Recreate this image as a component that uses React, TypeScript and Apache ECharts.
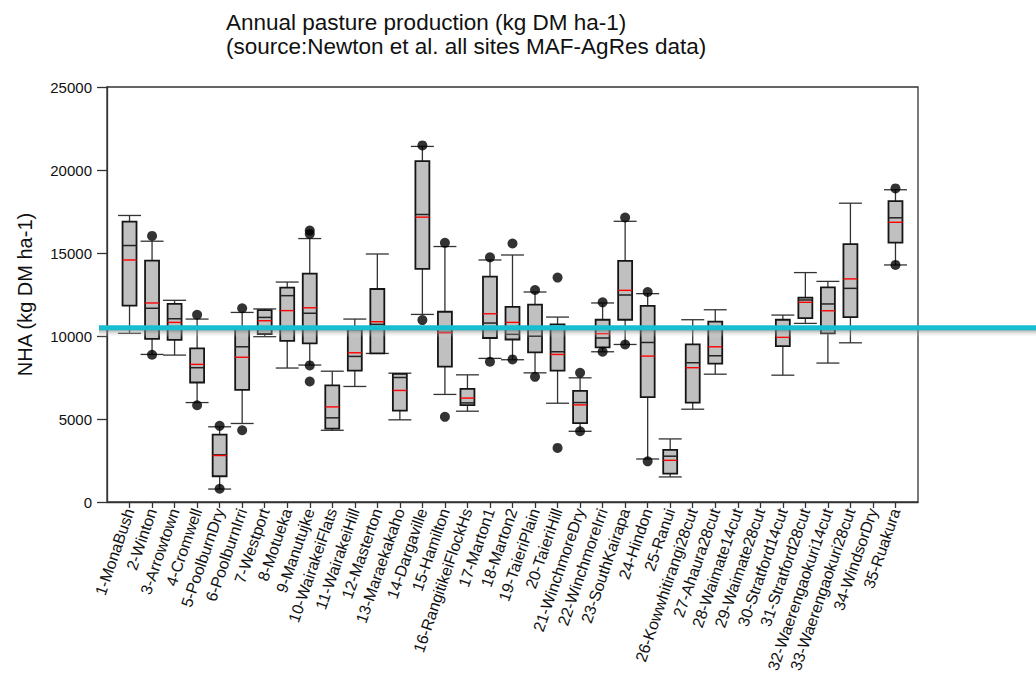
import React, { useEffect, useRef } from "react";
import * as echarts from "echarts";

const categories = [
  "1-MonaBush", "2-Winton", "3-Arrowtown", "4-Cromwell", "5-PoolburnDry",
  "6-PoolburnIrri", "7-Westport", "8-Motueka", "9-Manutujke", "10-WairakeiFlats",
  "11-WairakeiHill", "12-Masterton", "13-Maraekakaho", "14-Dargaville", "15-Hamilton",
  "16-RangitikeiFlockHs", "17-Marton1", "18-Marton2", "19-TaieriPlain", "20-TaieriHill",
  "21-WinchmoreDry", "22-WinchmoreIrri", "23-SouthKairapa", "24-Hindon", "25-Ranui",
  "26-Kowwhitirangi28cut", "27-Ahaura28cut", "28-Waimate14cut", "29-Waimate28cut",
  "30-Stratford14cut", "31-Stratford28cut", "32-Waerengaokuri14cut",
  "33-Waerengaokuri28cut", "34-WindsorDry", "35-Ruakura",
];

const whiskerLow = [10160, 8890, 8850, 5990, 780, 4730, 9960, 8070, 8250, 4320, 6960, 8950, 4950, 11300, 6480, 5470, 8650, 8570, 7780, 5950, 4260, 9050, 9490, 2590, 1510, 5590, 7700, null, null, 7640, 10760, 8370, 9590, null, 14280];
const q1 = [11830, 9830, 9770, 7200, 1550, 6760, 10120, 9710, 9560, 4420, 7920, 8950, 5510, 14040, 8150, 5830, 9880, 9790, 9010, 7920, 4750, 9310, 10980, 6320, 1710, 5990, 8330, null, null, 9390, 11080, 10160, 11140, null, 15630];
const median = [15450, 11670, 11040, 8090, 2840, 9350, 11120, 12430, 11370, 5070, 8770, 10700, 7500, 17320, 10220, 5970, 10780, 10100, 9990, 9050, 5990, 9880, 12470, 9610, 2760, 8390, 8810, null, null, 10400, 12170, 11930, 12870, null, 17120];
const mean = [14580, 11990, 10820, 8290, 2800, 8720, 10920, 11530, 11700, 5730, 8990, 10860, 6720, 17160, 10200, 6260, 11340, 10820, 10400, 8890, 5850, 10140, 12750, 8790, 2510, 8090, 9350, null, null, 9920, 12030, 11520, 13440, null, 16850];
const q3 = [16890, 14540, 11930, 9250, 4060, 10450, 11560, 12910, 13760, 7020, 10400, 12830, 7720, 20540, 11460, 6820, 13580, 11750, 11890, 10700, 6700, 10980, 14520, 11810, 3140, 9490, 10860, null, null, 10980, 12310, 12930, 15530, null, 18120];
const whiskerHigh = [17260, 15710, 12150, 11020, 4530, 11420, 11630, 13250, 15870, 7880, 11020, 14940, 7760, 21420, 15390, 7660, 14580, 14880, 12650, 11140, 7480, 11990, 16910, 12550, 3800, 10980, 11580, null, null, 11260, 13820, 13290, 18000, null, 18810];

// [site number, value]
const outliers = [
  [2, 16030], [2, 8870], [4, 11280], [4, 5830], [5, 4590], [5, 800],
  [6, 11670], [6, 4320], [9, 16350], [9, 16150], [9, 8230], [9, 7260],
  [14, 21480], [14, 10960], [15, 15610], [15, 5130], [17, 14740], [17, 8450],
  [18, 15570], [18, 8590], [19, 12770], [19, 7540], [20, 13520], [20, 3260],
  [21, 7780], [21, 4260], [22, 12030], [22, 9050], [23, 17140], [23, 9490],
  [24, 12650], [24, 2450], [35, 18890], [35, 14280],
];

const yMin = 0;
const yMax = 25000;
const yInterval = 5000;
const referenceLine = 10500;

const FONT = "Liberation Sans, Arial, sans-serif";

export default function App() {
  const ref = useRef<HTMLDivElement>(null);

  useEffect(() => {
    document.body.style.margin = "0";
    const chart = echarts.init(ref.current as HTMLDivElement, null, { renderer: "svg" });
    const axisCategories = ["", ...categories, ""];
    const boxData: number[][] = [];
    categories.forEach((_, i) => {
      if (whiskerLow[i] == null) return;
      boxData.push([i + 1, whiskerLow[i] as number, q1[i] as number, median[i] as number, mean[i] as number, q3[i] as number, whiskerHigh[i] as number]);
    });

    chart.setOption({
      animation: false,
      backgroundColor: "#ffffff",
      textStyle: { fontFamily: FONT },
      title: {
        text: "Annual pasture production (kg DM ha-1)\n(source:Newton et al. all sites MAF-AgRes data)",
        left: 226,
        top: 10,
        padding: 0,
        textStyle: { fontSize: 22.5, fontWeight: "normal", lineHeight: 24, color: "#111", fontFamily: FONT },
      },
      grid: {
        left: 107,
        right: 118,
        top: 87,
        bottom: 175,
        show: true,
        borderColor: "#333",
        borderWidth: 1.3,
        backgroundColor: "transparent",
      },
      xAxis: {
        type: "category",
        data: axisCategories,
        boundaryGap: false,
        axisLine: { show: true, lineStyle: { color: "#333", width: 1.3 } },
        axisTick: {
          show: true,
          length: 6,
          interval: (index: number) => index > 0 && index < axisCategories.length - 1,
          lineStyle: { color: "#333", width: 1.3 },
        },
        axisLabel: {
          interval: 0,
          rotate: 71,
          margin: 7,
          fontSize: 16,
          color: "#111",
          fontFamily: FONT,
        },
        splitLine: { show: false },
      },
      yAxis: {
        type: "value",
        min: yMin,
        max: yMax,
        interval: yInterval,
        name: "NHA (kg DM ha-1)",
        nameLocation: "middle",
        nameGap: 72,
        nameTextStyle: { fontSize: 20, color: "#111", fontFamily: FONT },
        axisLine: { show: true, lineStyle: { color: "#333", width: 1.3 } },
        axisTick: { show: true, length: 10, lineStyle: { color: "#333", width: 1.3 } },
        axisLabel: { fontSize: 15, color: "#111", margin: 15, fontFamily: FONT, formatter: (v: number) => String(v) },
        splitLine: { show: false },
      },
      series: [
        {
          type: "custom",
          data: boxData,
          encode: { x: 0, y: [1, 2, 3, 4, 5, 6] },
          z: 2,
          renderItem: (params: any, api: any) => {
            const x = api.value(0);
            const band = api.size([1, 0])[0];
            const bw = band * 0.62;
            const cw = band * 1.02;
            const pt = (d: number) => api.coord([x, api.value(d)]);
            const lo = pt(1);
            const cx = lo[0];
            const yLo = lo[1];
            const yQ1 = pt(2)[1];
            const yMed = pt(3)[1];
            const yMean = pt(4)[1];
            const yQ3 = pt(5)[1];
            const yHi = pt(6)[1];
            const ws = { stroke: "#333", lineWidth: 1.3 };
            return {
              type: "group",
              children: [
                { type: "line", shape: { x1: cx, y1: yHi, x2: cx, y2: yQ3 }, style: ws },
                { type: "line", shape: { x1: cx, y1: yQ1, x2: cx, y2: yLo }, style: ws },
                { type: "line", shape: { x1: cx - cw / 2, y1: yHi, x2: cx + cw / 2, y2: yHi }, style: ws },
                { type: "line", shape: { x1: cx - cw / 2, y1: yLo, x2: cx + cw / 2, y2: yLo }, style: ws },
                {
                  type: "rect",
                  shape: { x: cx - bw / 2, y: yQ3, width: bw, height: yQ1 - yQ3 },
                  style: { fill: "#c0c0c0", stroke: "#151515", lineWidth: 1.8 },
                },
                { type: "line", shape: { x1: cx - bw / 2, y1: yMed, x2: cx + bw / 2, y2: yMed }, style: { stroke: "#222", lineWidth: 1.5 } },
                { type: "line", shape: { x1: cx - bw / 2, y1: yMean, x2: cx + bw / 2, y2: yMean }, style: { stroke: "#ff0000", lineWidth: 1.4 } },
              ],
            };
          },
        },
        {
          type: "scatter",
          data: outliers,
          symbol: "circle",
          symbolSize: 10,
          z: 3,
          itemStyle: { color: "#000" },
        },
      ],
    });

    const yPix = chart.convertToPixel({ yAxisIndex: 0 }, referenceLine) as number;
    const width = chart.getWidth();
    chart.setOption({
      graphic: [
        {
          type: "rect",
          z: 99,
          shape: { x: 99, y: yPix + 2, width: width - 99, height: 8 },
          style: {
            fill: new echarts.graphic.LinearGradient(0, 0, 0, 1, [
              { offset: 0, color: "rgba(110,110,110,0.6)" },
              { offset: 1, color: "rgba(255,255,255,0)" },
            ]),
          },
        },
        {
          type: "line",
          z: 100,
          shape: { x1: 99, y1: yPix, x2: width, y2: yPix },
          style: { stroke: "#17becf", lineWidth: 5 },
        },
      ],
    });

    return () => {
      chart.dispose();
    };
  }, []);

  return <div ref={ref} style={{ width: 1036, height: 677 }} />;
}
